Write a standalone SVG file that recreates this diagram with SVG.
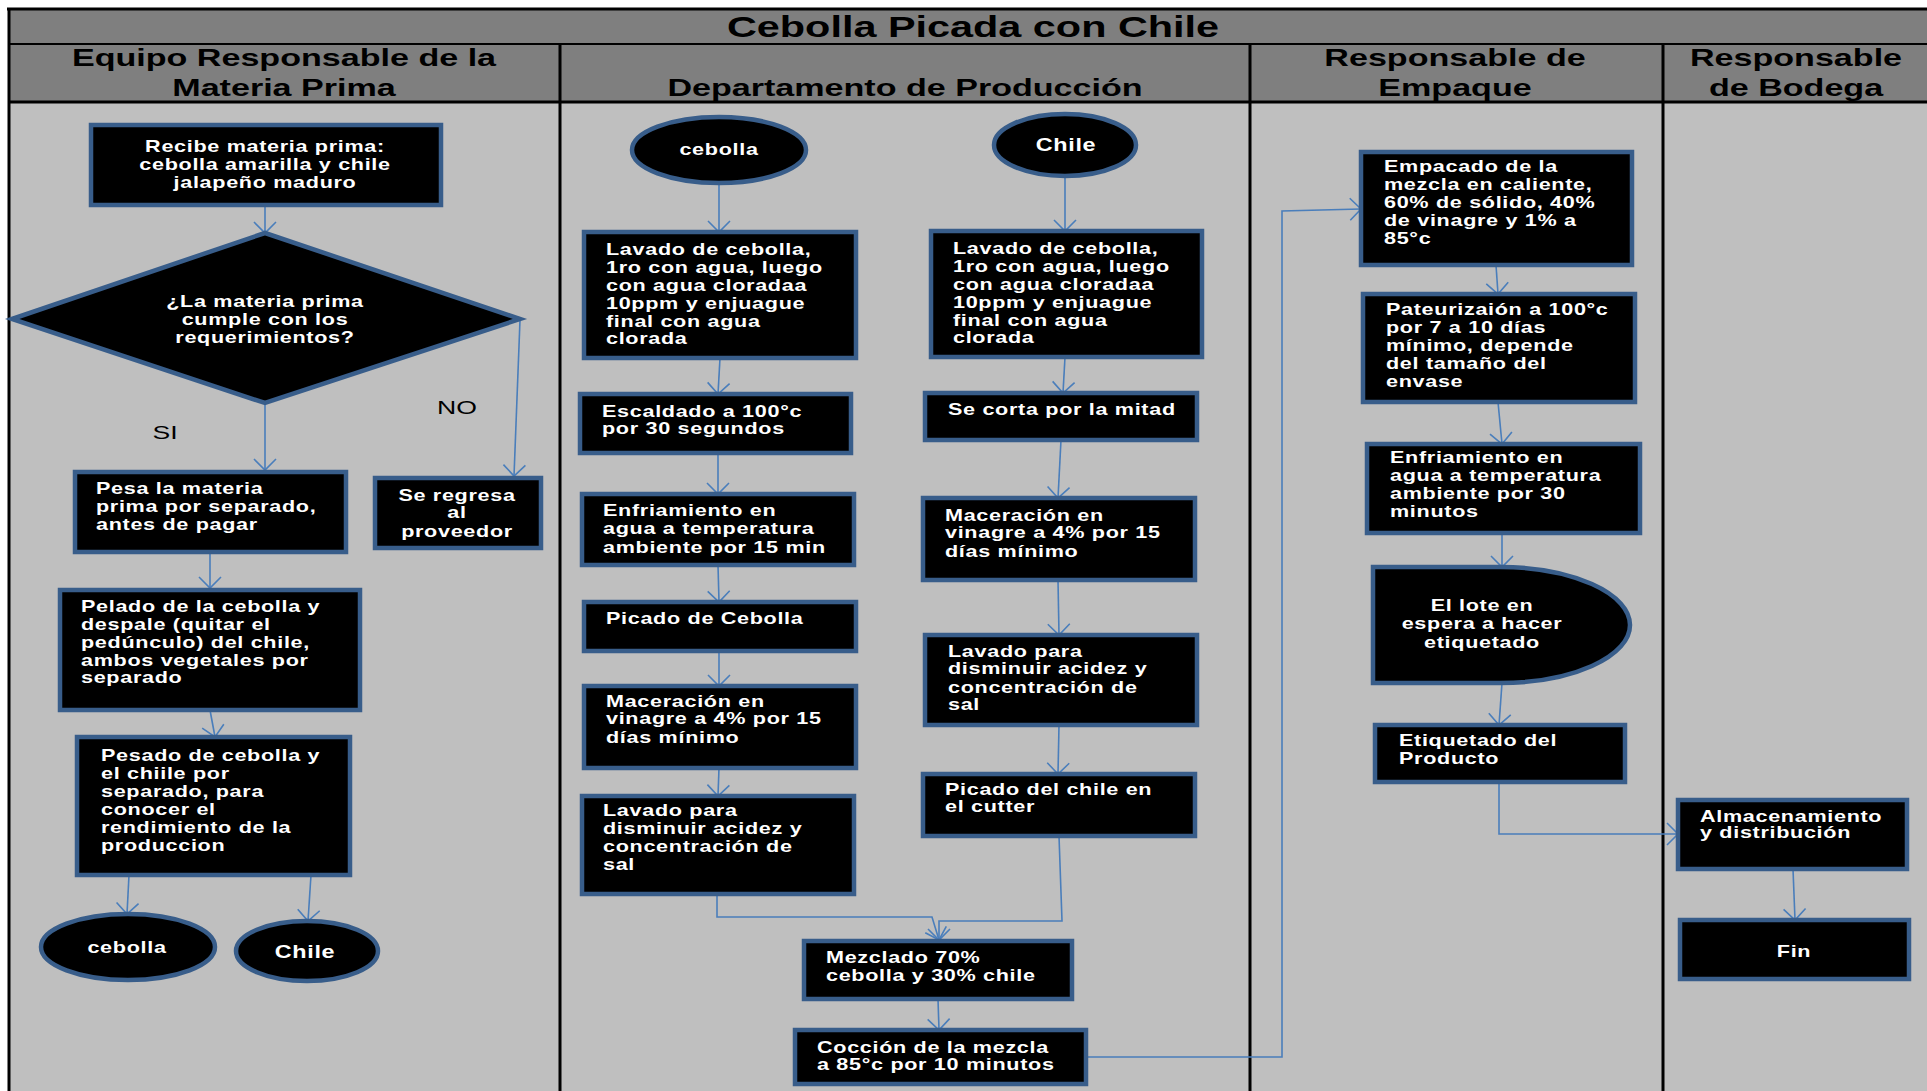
<svg xmlns="http://www.w3.org/2000/svg" width="1927" height="1091" viewBox="0 0 1927 1091">
<style>
.nd{fill:#000;stroke:#385d8a;stroke-width:4.5}
.t{font-family:"Liberation Sans",Arial,sans-serif;font-weight:bold;font-size:16px;fill:#fff;letter-spacing:0.5px}
.c{text-anchor:middle}
.h{font-family:"Liberation Sans",Arial,sans-serif;font-weight:bold;font-size:24px;fill:#000;text-anchor:middle}
.lbl{font-family:"Liberation Sans",Arial,sans-serif;font-size:19px;fill:#000;text-anchor:middle}
.cn{fill:none;stroke:#4a7ebb;stroke-width:1.6;marker-end:url(#arr)}
.cn0{fill:none;stroke:#4a7ebb;stroke-width:1.6}
.ln{stroke:#000;fill:none}
</style>
<defs>
<marker id="arr" markerUnits="userSpaceOnUse" markerWidth="26" markerHeight="26" viewBox="0 0 26 26" refX="23" refY="13" orient="auto">
<path d="M12,2 L23,13 L12,24" fill="none" stroke="#4a7ebb" stroke-width="1.6"/>
</marker>
</defs>

<g id="lanes">
<rect x="9" y="102" width="1918" height="989" fill="#bfbfbf"/>
<rect x="9" y="9" width="1918" height="93" fill="#7f7f7f"/>
<line class="ln" x1="7" y1="9" x2="1927" y2="9" stroke-width="3"/>
<line class="ln" x1="9" y1="8" x2="9" y2="1091" stroke-width="3"/>
<line class="ln" x1="9" y1="44" x2="1927" y2="44" stroke-width="2"/>
<line class="ln" x1="9" y1="102" x2="1927" y2="102" stroke-width="3"/>
<line class="ln" x1="560" y1="44" x2="560" y2="1091" stroke-width="3"/>
<line class="ln" x1="1250" y1="44" x2="1250" y2="1091" stroke-width="3"/>
<line class="ln" x1="1663" y1="44" x2="1663" y2="1091" stroke-width="3"/>
<text class="h" style="font-size:30px" transform="translate(973,0) scale(1.38,1)" x="0" y="37">Cebolla Picada con Chile</text>
<text class="h" transform="translate(284,0) scale(1.42,1)"><tspan x="0" y="66">Equipo Responsable de la</tspan><tspan x="0" y="96">Materia Prima</tspan></text>
<text class="h" transform="translate(905,0) scale(1.42,1)" x="0" y="96">Departamento de Producción</text>
<text class="h" transform="translate(1455,0) scale(1.42,1)"><tspan x="0" y="66">Responsable de</tspan><tspan x="0" y="96">Empaque</tspan></text>
<text class="h" transform="translate(1796,0) scale(1.42,1)"><tspan x="0" y="66">Responsable</tspan><tspan x="0" y="96">de Bodega</tspan></text>
</g>

<g id="connectors">
<path class="cn" d="M265,205 V233"/>
<path class="cn" d="M265,403 V470"/>
<path class="cn" d="M520,320 L514,476"/>
<path class="cn" d="M210,553 V588"/>
<path class="cn" d="M210,710 L215,737"/>
<path class="cn" d="M129,875 L127,914"/>
<path class="cn" d="M311,875 L308,921"/>
<path class="cn" d="M719,183 V232"/>
<path class="cn" d="M720,358 L718,394"/>
<path class="cn" d="M718,453 V494"/>
<path class="cn" d="M718,565 L719,602"/>
<path class="cn" d="M719,651 V686"/>
<path class="cn" d="M719,768 L718,796"/>
<path class="cn" d="M1065,176 V231"/>
<path class="cn" d="M1065,357 L1063,393"/>
<path class="cn" d="M1061,440 L1058,498"/>
<path class="cn" d="M1058,580 L1059,635"/>
<path class="cn" d="M1059,725 L1058,774"/>
<path class="cn" d="M717,894 V917 H932 L939,940"/>
<path class="cn" d="M1059,836 L1062,921 H939 V940"/>
<path class="cn" d="M938,999 L939,1030"/>
<path class="cn" d="M1086,1057 H1282 V211 L1361,209"/>
<path class="cn" d="M1496,265 L1498,294"/>
<path class="cn" d="M1498,402 L1502,444"/>
<path class="cn" d="M1502,533 V567"/>
<path class="cn" d="M1502,683 L1499,725"/>
<path class="cn" d="M1499,782 V834 H1678"/>
<path class="cn" d="M1793,869 L1795,920"/>
</g>

<g id="n-recibe">
<rect class="nd" x="91" y="125" width="350" height="80"/>
<text class="t c" transform="translate(265,0) scale(1.35,1)"><tspan x="0" y="152">Recibe materia prima:</tspan><tspan x="0" y="170">cebolla amarilla y chile</tspan><tspan x="0" y="188">jalapeño maduro</tspan></text>
</g>
<g id="n-decision">
<polygon class="nd" points="12,319 265,233 520,319 265,403"/>
<text class="t c" transform="translate(265,0) scale(1.35,1)"><tspan x="0" y="307">¿La materia prima</tspan><tspan x="0" y="325">cumple con los</tspan><tspan x="0" y="343">requerimientos?</tspan></text>
</g>
<g id="lbl-no"><text class="lbl" transform="translate(457,0) scale(1.4,1)" x="0" y="414">NO</text></g>
<g id="lbl-si"><text class="lbl" transform="translate(165,0) scale(1.4,1)" x="0" y="439">SI</text></g>
<g id="n-pesa">
<rect class="nd" x="75" y="472" width="271" height="80"/>
<text class="t" transform="translate(96,0) scale(1.35,1)"><tspan x="0" y="494">Pesa la materia</tspan><tspan x="0" y="512">prima por separado,</tspan><tspan x="0" y="530">antes de pagar</tspan></text>
</g>
<g id="n-regresa">
<rect class="nd" x="375" y="478" width="166" height="70"/>
<text class="t c" transform="translate(457,0) scale(1.35,1)"><tspan x="0" y="501">Se regresa</tspan><tspan x="0" y="518">al</tspan><tspan x="0" y="537">proveedor</tspan></text>
</g>
<g id="n-pelado">
<rect class="nd" x="60" y="590" width="300" height="120"/>
<text class="t" transform="translate(81,0) scale(1.35,1)"><tspan x="0" y="612">Pelado de la cebolla y</tspan><tspan x="0" y="630">despale (quitar el</tspan><tspan x="0" y="648">pedúnculo) del chile,</tspan><tspan x="0" y="666">ambos vegetales por</tspan><tspan x="0" y="683">separado</tspan></text>
</g>
<g id="n-pesado">
<rect class="nd" x="77" y="737" width="273" height="138"/>
<text class="t" transform="translate(101,0) scale(1.35,1)"><tspan x="0" y="761">Pesado de cebolla y</tspan><tspan x="0" y="779">el chiile por</tspan><tspan x="0" y="797">separado, para</tspan><tspan x="0" y="815">conocer el</tspan><tspan x="0" y="833">rendimiento de la</tspan><tspan x="0" y="851">produccion</tspan></text>
</g>
<g id="n-cebolla1">
<ellipse class="nd" cx="128" cy="947" rx="87" ry="33"/>
<text class="t c" transform="translate(127,0) scale(1.35,1)" x="0" y="953">cebolla</text>
</g>
<g id="n-chile1">
<ellipse class="nd" cx="307" cy="951" rx="71" ry="30"/>
<text class="t c" style="font-size:18px" transform="translate(305,0) scale(1.3,1)" x="0" y="958">Chile</text>
</g>

<g id="n-cebolla2">
<ellipse class="nd" cx="719" cy="150" rx="87" ry="33"/>
<text class="t c" transform="translate(719,0) scale(1.35,1)" x="0" y="155">cebolla</text>
</g>
<g id="n-chile2">
<ellipse class="nd" cx="1065" cy="145" rx="71" ry="31"/>
<text class="t c" style="font-size:18px" transform="translate(1066,0) scale(1.3,1)" x="0" y="151">Chile</text>
</g>
<g id="n-lavado-ceb">
<rect class="nd" x="584" y="232" width="272" height="126"/>
<text class="t" transform="translate(606,0) scale(1.35,1)"><tspan x="0" y="255">Lavado de cebolla,</tspan><tspan x="0" y="273">1ro con agua, luego</tspan><tspan x="0" y="291">con agua cloradaa</tspan><tspan x="0" y="309">10ppm y enjuague</tspan><tspan x="0" y="327">final con agua</tspan><tspan x="0" y="344">clorada</tspan></text>
</g>
<g id="n-lavado-chi">
<rect class="nd" x="931" y="231" width="271" height="126"/>
<text class="t" transform="translate(953,0) scale(1.35,1)"><tspan x="0" y="254">Lavado de cebolla,</tspan><tspan x="0" y="272">1ro con agua, luego</tspan><tspan x="0" y="290">con agua cloradaa</tspan><tspan x="0" y="308">10ppm y enjuague</tspan><tspan x="0" y="326">final con agua</tspan><tspan x="0" y="343">clorada</tspan></text>
</g>
<g id="n-escaldado">
<rect class="nd" x="580" y="394" width="271" height="59"/>
<text class="t" transform="translate(602,0) scale(1.35,1)"><tspan x="0" y="417">Escaldado a 100°c</tspan><tspan x="0" y="434">por 30 segundos</tspan></text>
</g>
<g id="n-corta">
<rect class="nd" x="925" y="393" width="272" height="47"/>
<text class="t" transform="translate(948,0) scale(1.35,1)" x="0" y="415">Se corta por la mitad</text>
</g>
<g id="n-enfria-ceb">
<rect class="nd" x="582" y="494" width="272" height="71"/>
<text class="t" transform="translate(603,0) scale(1.35,1)"><tspan x="0" y="516">Enfriamiento en</tspan><tspan x="0" y="534">agua a temperatura</tspan><tspan x="0" y="553">ambiente por 15 min</tspan></text>
</g>
<g id="n-macera-chi">
<rect class="nd" x="923" y="498" width="272" height="82"/>
<text class="t" transform="translate(945,0) scale(1.35,1)"><tspan x="0" y="521">Maceración en</tspan><tspan x="0" y="538">vinagre a 4% por 15</tspan><tspan x="0" y="557">días mínimo</tspan></text>
</g>
<g id="n-picado-ceb">
<rect class="nd" x="584" y="602" width="272" height="49"/>
<text class="t" transform="translate(606,0) scale(1.35,1)" x="0" y="624">Picado de Cebolla</text>
</g>
<g id="n-lavpara-chi">
<rect class="nd" x="925" y="635" width="272" height="90"/>
<text class="t" transform="translate(948,0) scale(1.35,1)"><tspan x="0" y="657">Lavado para</tspan><tspan x="0" y="674">disminuir acidez y</tspan><tspan x="0" y="693">concentración de</tspan><tspan x="0" y="710">sal</tspan></text>
</g>
<g id="n-macera-ceb">
<rect class="nd" x="584" y="686" width="272" height="82"/>
<text class="t" transform="translate(606,0) scale(1.35,1)"><tspan x="0" y="707">Maceración en</tspan><tspan x="0" y="724">vinagre a 4% por 15</tspan><tspan x="0" y="743">días mínimo</tspan></text>
</g>
<g id="n-picado-chi">
<rect class="nd" x="923" y="774" width="272" height="62"/>
<text class="t" transform="translate(945,0) scale(1.35,1)"><tspan x="0" y="795">Picado del chile en</tspan><tspan x="0" y="812">el cutter</tspan></text>
</g>
<g id="n-lavpara-ceb">
<rect class="nd" x="582" y="796" width="272" height="98"/>
<text class="t" transform="translate(603,0) scale(1.35,1)"><tspan x="0" y="816">Lavado para</tspan><tspan x="0" y="834">disminuir acidez y</tspan><tspan x="0" y="852">concentración de</tspan><tspan x="0" y="870">sal</tspan></text>
</g>
<g id="n-mezclado">
<rect class="nd" x="804" y="941" width="268" height="58"/>
<text class="t" transform="translate(826,0) scale(1.35,1)"><tspan x="0" y="963">Mezclado 70%</tspan><tspan x="0" y="981">cebolla y 30% chile</tspan></text>
</g>
<g id="n-coccion">
<rect class="nd" x="795" y="1030" width="291" height="54"/>
<text class="t" transform="translate(817,0) scale(1.35,1)"><tspan x="0" y="1053">Cocción de la mezcla</tspan><tspan x="0" y="1070">a 85°c por 10 minutos</tspan></text>
</g>

<g id="n-empacado">
<rect class="nd" x="1361" y="152" width="271" height="113"/>
<text class="t" transform="translate(1384,0) scale(1.35,1)"><tspan x="0" y="172">Empacado de la</tspan><tspan x="0" y="190">mezcla en caliente,</tspan><tspan x="0" y="208">60% de sólido, 40%</tspan><tspan x="0" y="226">de vinagre y 1% a</tspan><tspan x="0" y="244">85°c</tspan></text>
</g>
<g id="n-pasteur">
<rect class="nd" x="1363" y="294" width="272" height="108"/>
<text class="t" transform="translate(1386,0) scale(1.35,1)"><tspan x="0" y="315">Pateurizaión a 100°c</tspan><tspan x="0" y="333">por 7 a 10 días</tspan><tspan x="0" y="351">mínimo, depende</tspan><tspan x="0" y="369">del tamaño del</tspan><tspan x="0" y="387">envase</tspan></text>
</g>
<g id="n-enfria-emp">
<rect class="nd" x="1367" y="444" width="273" height="89"/>
<text class="t" transform="translate(1390,0) scale(1.35,1)"><tspan x="0" y="463">Enfriamiento en</tspan><tspan x="0" y="481">agua a temperatura</tspan><tspan x="0" y="499">ambiente por 30</tspan><tspan x="0" y="517">minutos</tspan></text>
</g>
<g id="n-lote">
<path class="nd" d="M1373,567 H1500 A130,58 0 0 1 1500,683 H1373 Z"/>
<text class="t c" transform="translate(1482,0) scale(1.35,1)"><tspan x="0" y="611">El lote en</tspan><tspan x="0" y="629">espera a hacer</tspan><tspan x="0" y="648">etiquetado</tspan></text>
</g>
<g id="n-etiquetado">
<rect class="nd" x="1375" y="725" width="250" height="57"/>
<text class="t" transform="translate(1399,0) scale(1.35,1)"><tspan x="0" y="746">Etiquetado del</tspan><tspan x="0" y="764">Producto</tspan></text>
</g>

<g id="n-almacen">
<rect class="nd" x="1678" y="800" width="229" height="69"/>
<text class="t" transform="translate(1700,0) scale(1.35,1)"><tspan x="0" y="822">Almacenamiento</tspan><tspan x="0" y="838">y distribución</tspan></text>
</g>
<g id="n-fin">
<rect class="nd" x="1680" y="920" width="229" height="59"/>
<text class="t c" transform="translate(1794,0) scale(1.35,1)" x="0" y="957">Fin</text>
</g>
</svg>
